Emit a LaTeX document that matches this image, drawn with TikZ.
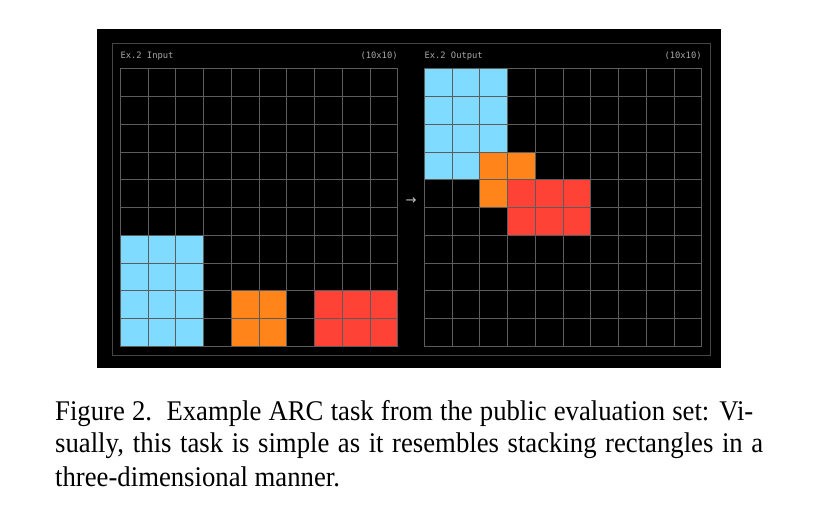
\documentclass[tikz,border=0pt]{standalone}
\usepackage{fontspec}
\setmainfont{Liberation Serif}
\newfontfamily\monof{DejaVu Sans Mono}
\newfontfamily\arrowf{DejaVu Sans}
\definecolor{arcteal}{HTML}{7FDBFF}
\definecolor{arcorange}{HTML}{FF851B}
\definecolor{arcred}{HTML}{FF4136}
\definecolor{gridgrey}{HTML}{5C5C5C}
\definecolor{bordergrey}{HTML}{464646}
\definecolor{labelgrey}{HTML}{A8A8A8}
\tikzset{
  gridline/.style={draw=gridgrey, line width=0.8pt},
  panelborder/.style={draw=bordergrey, line width=0.8pt},
  paneltitle/.style={font=\monof\fontsize{8.8}{10}\selectfont, text=labelgrey, inner sep=0pt},
  captionline/.style={font=\fontsize{28.5}{32.5}\selectfont, inner sep=0pt, anchor=base west},
}
\begin{document}
\begin{tikzpicture}[x=1pt,y=-1pt]
\useasboundingbox (0,0) rectangle (814,521);
\fill[black] (97,29) rectangle (721,368);
\draw[panelborder] (112,43) rectangle (710,355);
% input grid
\begin{scope}[shift={(120.3,68.7)}, x=27.75pt, y=-27.75pt]
  \foreach \r in {6,...,9} \foreach \c in {0,1,2} \fill[arcteal] (\c,\r) rectangle ++(1,1);
  \foreach \r in {8,9} \foreach \c in {4,5} \fill[arcorange] (\c,\r) rectangle ++(1,1);
  \foreach \r in {8,9} \foreach \c in {7,8,9} \fill[arcred] (\c,\r) rectangle ++(1,1);
  \foreach \i in {0,...,10} {
    \draw[gridline] (\i,0) -- (\i,10);
    \draw[gridline] (0,\i) -- (10,\i);
  }
\end{scope}
% output grid
\begin{scope}[shift={(424.3,68.7)}, x=27.75pt, y=-27.75pt]
  \foreach \r in {0,...,3} \foreach \c in {0,1,2} \fill[arcteal] (\c,\r) rectangle ++(1,1);
  \foreach \r in {3,4} \foreach \c in {2,3} \fill[arcorange] (\c,\r) rectangle ++(1,1);
  \foreach \r in {4,5} \foreach \c in {3,4,5} \fill[arcred] (\c,\r) rectangle ++(1,1);
  \foreach \i in {0,...,10} {
    \draw[gridline] (\i,0) -- (\i,10);
    \draw[gridline] (0,\i) -- (10,\i);
  }
\end{scope}
% titles
\node[paneltitle, anchor=west] (tin) at (120.3,56) {Ex.2 Input};
\node[paneltitle, anchor=east] (sin) at (397.8,56) {(10x10)};
\node[paneltitle, anchor=west] (tout) at (424.3,56) {Ex.2 Output};
\node[paneltitle, anchor=east] (sout) at (701.8,56) {(10x10)};
\node[font=\arrowf\fontsize{13}{14}\selectfont, text=labelgrey!70!white, inner sep=0pt] (arr) at (411,201) {→};
% caption
\node[captionline] (cap1) at (55,420) {\scalebox{0.937}[1]{\hbox to 745pt{Figure 2.\ \ Example ARC task from the public evaluation set: Vi-}}};
\node[captionline] (cap2) at (55,452.5) {\scalebox{0.937}[1]{\hbox to 755.6pt{sually, this task is simple as it resembles stacking rectangles in a}}};
\node[captionline] (cap3) at (55,486) {\scalebox{0.937}[1]{three-dimensional manner.}};
\end{tikzpicture}
\end{document}
